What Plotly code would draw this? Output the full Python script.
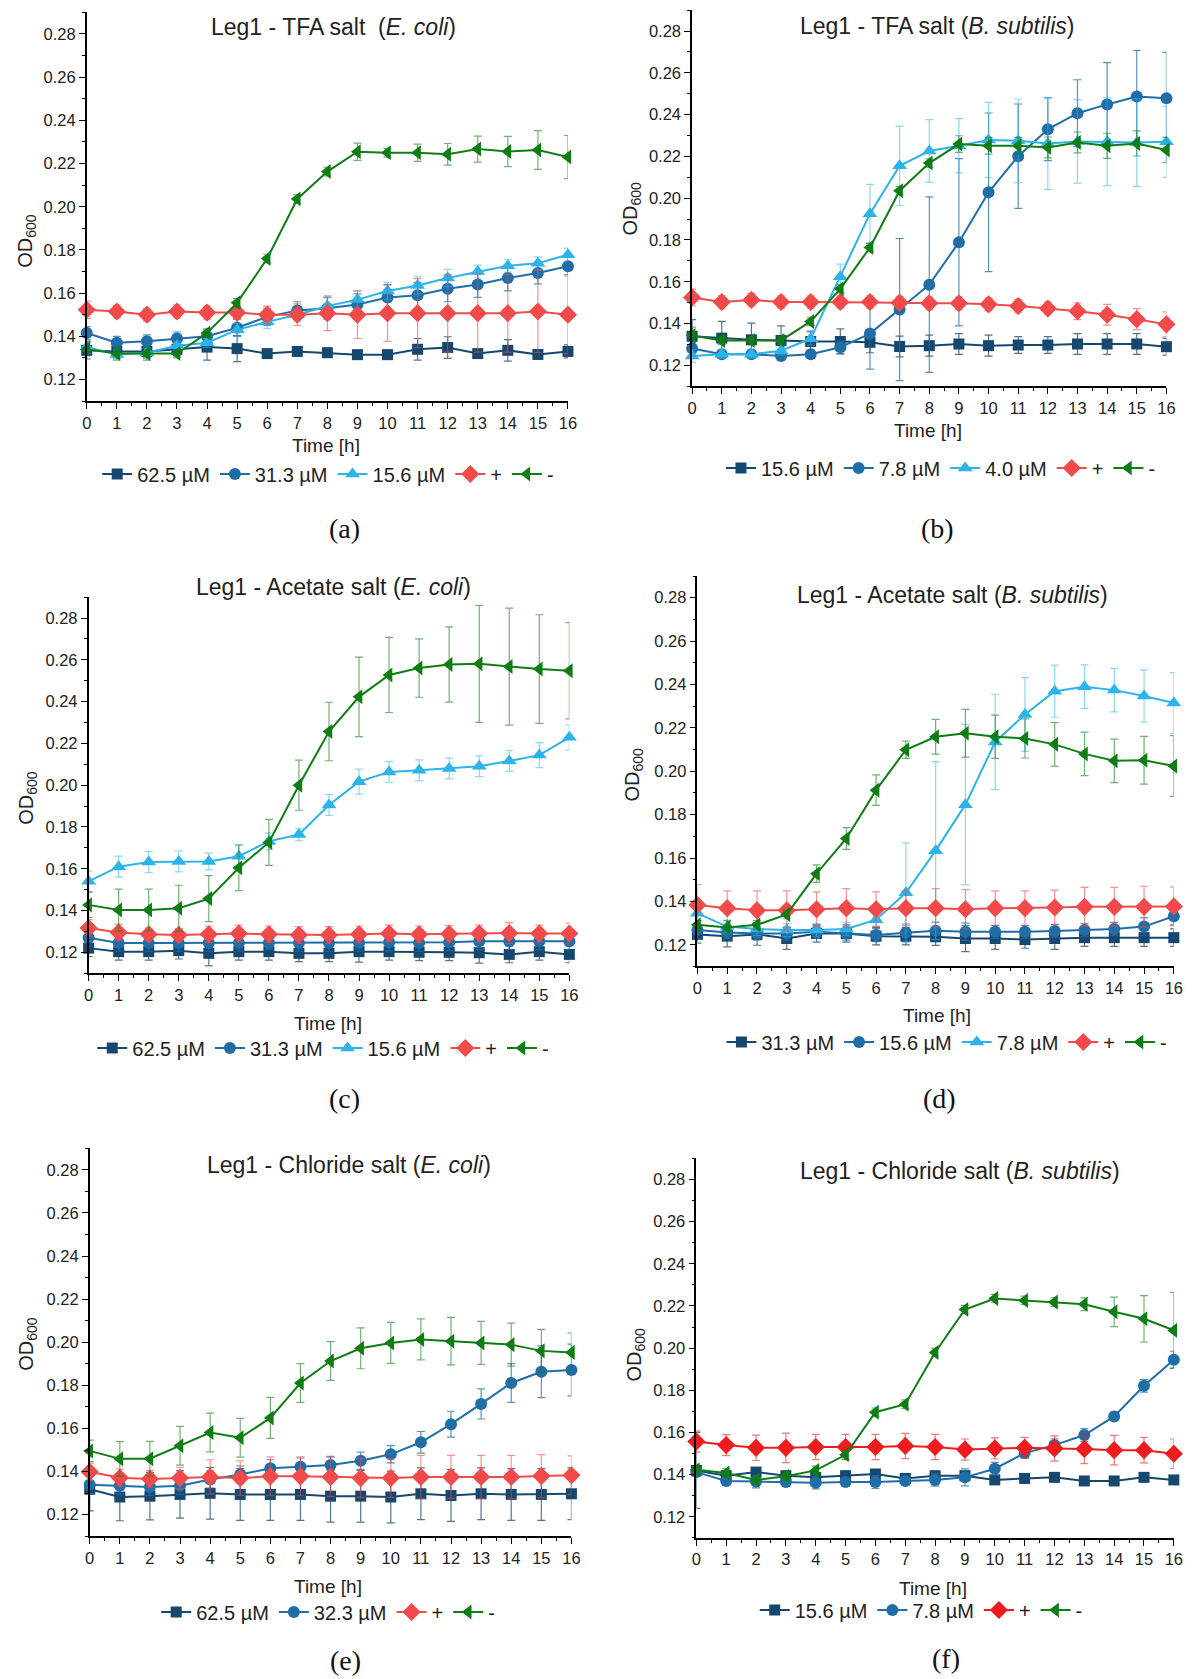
import plotly.graph_objects as go

W, H = 1203, 1679
HOURS = list(range(17))

# ---------------- (a) Leg1 - TFA salt, E. coli ----------------
a_625 = [0.1335, 0.1330, 0.1330, 0.1340, 0.1350, 0.1343, 0.1320, 0.1330, 0.1324, 0.1315, 0.1315, 0.1340, 0.1348, 0.1320, 0.1335, 0.1316, 0.1330]
a_625_err = [0.004, 0.003, 0.003, 0.003, 0.006, 0.006, 0.002, 0.002, 0.002, 0.002, 0.002, 0.005, 0.005, 0.002, 0.005, 0.002, 0.003]
a_313 = [0.1415, 0.1370, 0.1377, 0.1390, 0.1400, 0.1440, 0.1490, 0.1520, 0.1530, 0.1547, 0.1580, 0.1590, 0.1620, 0.1640, 0.1670, 0.1693, 0.1725]
a_313_err = [0.003, 0.003, 0.003, 0.003, 0.003, 0.004, 0.004, 0.004, 0.005, 0.005, 0.006, 0.006, 0.006, 0.006, 0.006, 0.005, 0.004]
a_156 = [0.1350, 0.1316, 0.1324, 0.1356, 0.1370, 0.1430, 0.1467, 0.1500, 0.1540, 0.1570, 0.1610, 0.1635, 0.1670, 0.1700, 0.1727, 0.1738, 0.1778]
a_156_err = [0.003, 0.002, 0.002, 0.002, 0.002, 0.003, 0.003, 0.003, 0.004, 0.004, 0.004, 0.004, 0.004, 0.003, 0.003, 0.003, 0.003]
a_pos = [0.1523, 0.1515, 0.1500, 0.1515, 0.1510, 0.1510, 0.1500, 0.1500, 0.1507, 0.1500, 0.1507, 0.1507, 0.1507, 0.1507, 0.1507, 0.1515, 0.1500]
a_pos_err = [0.004, 0.003, 0.003, 0.003, 0.003, 0.003, 0.004, 0.005, 0.008, 0.011, 0.013, 0.016, 0.018, 0.018, 0.018, 0.019, 0.018]
a_neg = [0.1340, 0.1320, 0.1320, 0.1320, 0.1415, 0.1555, 0.1760, 0.2036, 0.2163, 0.2255, 0.2250, 0.2250, 0.2243, 0.2267, 0.2256, 0.2263, 0.2230]
a_neg_err = [0.003, 0.003, 0.003, 0.002, 0.002, 0.002, 0.002, 0.002, 0.002, 0.004, 0.002, 0.004, 0.005, 0.006, 0.007, 0.009, 0.010]

# ---------------- (b) Leg1 - TFA salt, B. subtilis ----------------
b_156 = [0.1339, 0.1330, 0.1322, 0.1319, 0.1314, 0.1314, 0.1310, 0.1290, 0.1294, 0.1302, 0.1294, 0.1297, 0.1297, 0.1302, 0.1302, 0.1302, 0.1289]
b_156_err = [0.008, 0.008, 0.008, 0.007, 0.005, 0.006, 0.005, 0.005, 0.005, 0.005, 0.005, 0.004, 0.004, 0.005, 0.005, 0.005, 0.004]
b_78 = [0.1280, 0.1253, 0.1253, 0.1245, 0.1253, 0.1286, 0.1352, 0.1467, 0.1586, 0.1789, 0.2028, 0.2201, 0.2330, 0.2407, 0.2449, 0.2487, 0.2478]
b_78_err = [0.003, 0.002, 0.002, 0.002, 0.002, 0.003, 0.017, 0.034, 0.042, 0.040, 0.038, 0.025, 0.015, 0.016, 0.020, 0.022, 0.022]
b_40 = [0.1245, 0.1253, 0.1253, 0.1270, 0.1327, 0.1624, 0.1926, 0.2155, 0.2226, 0.2251, 0.2279, 0.2275, 0.2262, 0.2272, 0.2270, 0.2267, 0.2270]
b_40_err = [0.003, 0.002, 0.002, 0.002, 0.003, 0.006, 0.014, 0.019, 0.015, 0.013, 0.018, 0.020, 0.022, 0.020, 0.021, 0.021, 0.017]
b_pos = [0.1525, 0.1503, 0.1513, 0.1503, 0.1503, 0.1503, 0.1503, 0.1500, 0.1497, 0.1497, 0.1492, 0.1484, 0.1472, 0.1459, 0.1442, 0.1421, 0.1396]
b_pos_err = [0.004, 0.003, 0.003, 0.003, 0.003, 0.003, 0.003, 0.003, 0.003, 0.003, 0.003, 0.003, 0.003, 0.004, 0.005, 0.005, 0.006]
b_neg = [0.1343, 0.1319, 0.1319, 0.1319, 0.1410, 0.1566, 0.1764, 0.2036, 0.2168, 0.2259, 0.2251, 0.2251, 0.2243, 0.2267, 0.2251, 0.2262, 0.2231]
b_neg_err = [0.004, 0.002, 0.002, 0.002, 0.002, 0.002, 0.002, 0.002, 0.002, 0.004, 0.004, 0.004, 0.005, 0.005, 0.006, 0.006, 0.006]

# ---------------- (c) Leg1 - Acetate salt, E. coli ----------------
c_625 = [0.1220, 0.1203, 0.1203, 0.1208, 0.1195, 0.1203, 0.1203, 0.1195, 0.1195, 0.1203, 0.1203, 0.1200, 0.1200, 0.1198, 0.1190, 0.1203, 0.1190]
c_625_err = [0.004, 0.004, 0.004, 0.004, 0.006, 0.004, 0.004, 0.004, 0.004, 0.005, 0.004, 0.004, 0.004, 0.005, 0.004, 0.004, 0.004]
c_313 = [0.1270, 0.1245, 0.1245, 0.1245, 0.1245, 0.1245, 0.1245, 0.1245, 0.1245, 0.1245, 0.1248, 0.1245, 0.1248, 0.1253, 0.1253, 0.1253, 0.1253]
c_313_err = [0.004, 0.004, 0.004, 0.004, 0.004, 0.004, 0.003, 0.004, 0.004, 0.004, 0.004, 0.004, 0.004, 0.004, 0.004, 0.004, 0.004]
c_156 = [0.1540, 0.1610, 0.1632, 0.1635, 0.1635, 0.1660, 0.1731, 0.1764, 0.1905, 0.2017, 0.2063, 0.2071, 0.2080, 0.2091, 0.2116, 0.2144, 0.2229]
c_156_err = [0.005, 0.005, 0.005, 0.005, 0.004, 0.005, 0.004, 0.003, 0.005, 0.006, 0.005, 0.005, 0.005, 0.005, 0.005, 0.006, 0.006]
c_pos = [0.1316, 0.1295, 0.1286, 0.1283, 0.1286, 0.1290, 0.1286, 0.1283, 0.1283, 0.1286, 0.1290, 0.1286, 0.1288, 0.1290, 0.1292, 0.1290, 0.1290]
c_pos_err = [0.004, 0.004, 0.003, 0.003, 0.004, 0.004, 0.004, 0.004, 0.004, 0.004, 0.004, 0.004, 0.004, 0.004, 0.005, 0.004, 0.005]
c_neg = [0.1427, 0.1402, 0.1402, 0.1411, 0.1457, 0.1605, 0.1726, 0.2000, 0.2257, 0.2423, 0.2528, 0.2561, 0.2578, 0.2581, 0.2568, 0.2556, 0.2548]
c_neg_err = [0.006, 0.010, 0.010, 0.011, 0.011, 0.011, 0.011, 0.012, 0.014, 0.019, 0.018, 0.014, 0.018, 0.028, 0.028, 0.026, 0.023]

# ---------------- (d) Leg1 - Acetate salt, B. subtilis ----------------
d_313 = [0.1248, 0.1240, 0.1248, 0.1229, 0.1252, 0.1252, 0.1240, 0.1240, 0.1237, 0.1229, 0.1229, 0.1224, 0.1229, 0.1233, 0.1233, 0.1233, 0.1233]
d_313_err = [0.004, 0.005, 0.005, 0.005, 0.004, 0.004, 0.004, 0.004, 0.004, 0.006, 0.005, 0.004, 0.005, 0.004, 0.004, 0.004, 0.004]
d_156 = [0.1268, 0.1257, 0.1252, 0.1252, 0.1260, 0.1252, 0.1245, 0.1256, 0.1265, 0.1260, 0.1260, 0.1260, 0.1264, 0.1268, 0.1273, 0.1284, 0.1332]
d_156_err = [0.004, 0.003, 0.003, 0.003, 0.003, 0.003, 0.003, 0.004, 0.004, 0.004, 0.003, 0.003, 0.003, 0.003, 0.003, 0.004, 0.004]
d_78 = [0.1345, 0.1284, 0.1273, 0.1268, 0.1268, 0.1273, 0.1316, 0.1440, 0.1634, 0.1846, 0.2135, 0.2262, 0.2369, 0.2390, 0.2374, 0.2347, 0.2315]
d_78_err = [0.004, 0.003, 0.003, 0.003, 0.003, 0.003, 0.003, 0.023, 0.041, 0.037, 0.022, 0.017, 0.012, 0.010, 0.010, 0.012, 0.014]
d_pos = [0.1383, 0.1369, 0.1359, 0.1359, 0.1364, 0.1369, 0.1364, 0.1369, 0.1369, 0.1364, 0.1369, 0.1369, 0.1372, 0.1375, 0.1375, 0.1375, 0.1377]
d_pos_err = [0.0095, 0.008, 0.009, 0.009, 0.008, 0.009, 0.008, 0.008, 0.009, 0.009, 0.008, 0.008, 0.008, 0.009, 0.009, 0.0095, 0.009]
d_neg = [0.1292, 0.1280, 0.1292, 0.1340, 0.1528, 0.1690, 0.1913, 0.2099, 0.2159, 0.2175, 0.2159, 0.2151, 0.2124, 0.2080, 0.2048, 0.2051, 0.2024]
d_neg_err = [0.002, 0.003, 0.002, 0.002, 0.004, 0.005, 0.007, 0.004, 0.008, 0.011, 0.010, 0.009, 0.010, 0.010, 0.010, 0.011, 0.014]

# ---------------- (e) Leg1 - Chloride salt, E. coli ----------------
e_625 = [0.1318, 0.1282, 0.1286, 0.1294, 0.1299, 0.1294, 0.1294, 0.1294, 0.1286, 0.1286, 0.1282, 0.1297, 0.1289, 0.1297, 0.1294, 0.1294, 0.1297]
e_625_err = [0.010, 0.011, 0.011, 0.011, 0.012, 0.012, 0.012, 0.012, 0.012, 0.012, 0.012, 0.012, 0.012, 0.012, 0.012, 0.012, 0.012]
e_323 = [0.1339, 0.1334, 0.1329, 0.1334, 0.1363, 0.1386, 0.1415, 0.1423, 0.1431, 0.1450, 0.1480, 0.1536, 0.1620, 0.1714, 0.1811, 0.1863, 0.1871]
e_323_err = [0.004, 0.004, 0.004, 0.004, 0.004, 0.004, 0.004, 0.004, 0.004, 0.004, 0.004, 0.005, 0.006, 0.007, 0.009, 0.012, 0.012]
e_pos = [0.1399, 0.1371, 0.1366, 0.1370, 0.1375, 0.1370, 0.1378, 0.1378, 0.1375, 0.1370, 0.1370, 0.1375, 0.1375, 0.1375, 0.1375, 0.1379, 0.1383]
e_pos_err = [0.004, 0.004, 0.004, 0.005, 0.008, 0.008, 0.009, 0.009, 0.009, 0.009, 0.009, 0.010, 0.010, 0.010, 0.010, 0.010, 0.009]
e_neg = [0.1496, 0.1459, 0.1460, 0.1520, 0.1581, 0.1557, 0.1649, 0.1811, 0.1913, 0.1972, 0.1997, 0.2013, 0.2005, 0.1997, 0.1989, 0.1960, 0.1953]
e_neg_err = [0.005, 0.008, 0.008, 0.009, 0.009, 0.009, 0.0095, 0.009, 0.009, 0.0095, 0.0095, 0.0095, 0.011, 0.010, 0.010, 0.010, 0.009]

# ---------------- (f) Leg1 - Chloride salt, B. subtilis ----------------
f_156 = [0.1420, 0.1395, 0.1412, 0.1395, 0.1387, 0.1395, 0.1403, 0.1382, 0.1395, 0.1395, 0.1375, 0.1382, 0.1387, 0.1370, 0.1370, 0.1387, 0.1375]
f_156_err = [0.018, 0.002, 0.002, 0.002, 0.002, 0.002, 0.002, 0.002, 0.002, 0.002, 0.002, 0.002, 0.002, 0.002, 0.002, 0.002, 0.002]
f_78 = [0.1412, 0.1370, 0.1367, 0.1365, 0.1362, 0.1365, 0.1365, 0.1370, 0.1375, 0.1387, 0.1428, 0.1502, 0.1540, 0.1588, 0.1676, 0.1821, 0.1945]
f_78_err = [0.002, 0.002, 0.003, 0.002, 0.003, 0.002, 0.003, 0.002, 0.003, 0.004, 0.003, 0.002, 0.003, 0.003, 0.002, 0.003, 0.004]
f_pos = [0.1557, 0.1540, 0.1527, 0.1527, 0.1531, 0.1531, 0.1531, 0.1536, 0.1531, 0.1519, 0.1524, 0.1527, 0.1524, 0.1522, 0.1516, 0.1516, 0.1499]
f_pos_err = [0.005, 0.005, 0.006, 0.007, 0.006, 0.006, 0.006, 0.006, 0.006, 0.005, 0.005, 0.005, 0.006, 0.007, 0.007, 0.006, 0.007]
f_neg = [0.1423, 0.1408, 0.1375, 0.1392, 0.1420, 0.1494, 0.1696, 0.1734, 0.1979, 0.2183, 0.2235, 0.2226, 0.2218, 0.2208, 0.2172, 0.2139, 0.2084]
f_neg_err = [0.002, 0.002, 0.002, 0.002, 0.002, 0.002, 0.002, 0.002, 0.002, 0.002, 0.002, 0.002, 0.002, 0.003, 0.007, 0.011, 0.018]

# marker / colour styles: (line colour, error-bar colour, symbol, marker size)
STYLES = {
    "sq": ("#16476f", "rgba(22,71,111,0.75)", "square", 11),
    "ci": ("#1f6ea8", "rgba(31,110,168,0.75)", "circle", 12),
    "tr": ("#2cb4ea", "rgba(44,180,234,0.55)", "triangle-up", 13),
    "pos": ("#f24a4a", "rgba(242,74,74,0.6)", "diamond", 14),
    "posf": ("#ee1c1c", "rgba(238,28,28,0.6)", "diamond", 14),
    "neg": ("#0f7d14", "rgba(15,125,20,0.6)", "triangle-left", 13),
}

SANS = "Liberation Sans, Arial, sans-serif"
SERIF = "Liberation Serif, Times New Roman, serif"

# pixel geometry of each panel: x of hour 0, x of hour 16, y of 0.28, y of 0.12
PANELS = [
    dict(geom=(82.7, 569.6, 34.0, 379.5),
         title="Leg1 - TFA salt\u00a0 (<i>E. coli</i>)", title_xy=(332, 27),
         od_xy=(22, 241), time_xy=(325, 445), legend_xy=(327, 474), label="(a)", label_xy=(344, 528),
         series=[("62.5 µM", a_625, a_625_err, "sq"), ("31.3 µM", a_313, a_313_err, "ci"),
                 ("15.6 µM", a_156, a_156_err, "tr"), ("+", a_pos, a_pos_err, "pos"),
                 ("-", a_neg, a_neg_err, "neg")]),
    dict(geom=(695.2, 1175.1, 31.1, 365.3),
         title="Leg1 - TFA salt (<i>B. subtilis</i>)", title_xy=(943, 26),
         od_xy=(634, 209), time_xy=(934, 430), legend_xy=(947, 468), label="(b)", label_xy=(943, 528),
         series=[("15.6 µM", b_156, b_156_err, "sq"), ("7.8 µM", b_78, b_78_err, "ci"),
                 ("4.0 µM", b_40, b_40_err, "tr"), ("+", b_pos, b_pos_err, "pos"),
                 ("-", b_neg, b_neg_err, "neg")]),
    dict(geom=(84.6, 571.0, 618.1, 952.3),
         title="Leg1 - Acetate salt (<i>E. coli</i>)", title_xy=(332, 587),
         od_xy=(22, 798), time_xy=(327, 1023), legend_xy=(322, 1048), label="(c)", label_xy=(344, 1098),
         series=[("62.5 µM", c_625, c_625_err, "sq"), ("31.3 µM", c_313, c_313_err, "ci"),
                 ("15.6 µM", c_156, c_156_err, "tr"), ("+", c_pos, c_pos_err, "pos"),
                 ("-", c_neg, c_neg_err, "neg")]),
    dict(geom=(700.6, 1182.6, 597.7, 944.8),
         title="Leg1 - Acetate salt (<i>B. subtilis</i>)", title_xy=(959, 595),
         od_xy=(636, 775), time_xy=(943, 1015), legend_xy=(953, 1042), label="(d)", label_xy=(945, 1098),
         series=[("31.3 µM", d_313, d_313_err, "sq"), ("15.6 µM", d_156, d_156_err, "ci"),
                 ("7.8 µM", d_78, d_78_err, "tr"), ("+", d_pos, d_pos_err, "pos"),
                 ("-", d_neg, d_neg_err, "neg")]),
    dict(geom=(85.7, 573.1, 1169.8, 1514.7),
         title="Leg1 - Chloride salt (<i>E. coli</i>)", title_xy=(348, 1165),
         od_xy=(22, 1344), time_xy=(327, 1586), legend_xy=(327, 1612), label="(e)", label_xy=(345, 1660),
         series=[("62.5 µM", e_625, e_625_err, "sq"), ("32.3 µM", e_323, e_323_err, "ci"),
                 ("+", e_pos, e_pos_err, "pos"), ("-", e_neg, e_neg_err, "neg")]),
    dict(geom=(699.5, 1182.6, 1179.4, 1516.8),
         title="Leg1 - Chloride salt (<i>B. subtilis</i>)", title_xy=(966, 1171),
         od_xy=(637, 1355), time_xy=(939, 1588), legend_xy=(927, 1610), label="(f)", label_xy=(952, 1658),
         series=[("15.6 µM", f_156, f_156_err, "sq"), ("7.8 µM", f_78, f_78_err, "ci"),
                 ("+", f_pos, f_pos_err, "posf"), ("-", f_neg, f_neg_err, "neg")]),
]


def fx(px):
    return px / W


def fy(py):
    return 1 - py / H


fig = go.Figure()
layout = dict(
    width=W, height=H, autosize=False, margin=dict(l=0, r=0, t=0, b=0),
    paper_bgcolor="white", plot_bgcolor="white", showlegend=True,
    font=dict(family=SANS, color="#222222"),
)
annotations = []

for i, p in enumerate(PANELS, start=1):
    sfx = "" if i == 1 else str(i)
    xname, yname, lname = "x" + sfx, "y" + sfx, "legend" + sfx
    x0, x16, y28, y12 = p["geom"]
    step = (y12 - y28) / 8.0
    top, bottom = y28 - step / 2.0, y12 + step / 2.0

    layout["xaxis" + sfx] = dict(
        domain=[fx(x0), fx(x16)], anchor=yname, range=[0, 16],
        tickmode="linear", tick0=0, dtick=1,
        showline=True, linecolor="black", linewidth=1.6, mirror=False,
        ticks="outside", ticklen=6, tickwidth=1.4, tickcolor="black",
        minor=dict(ticks="outside", ticklen=3, tickwidth=1.1, tickcolor="black", dtick=0.5, showgrid=False),
        showgrid=False, zeroline=False, tickfont=dict(size=16.5, family=SANS, color="#222"),
        fixedrange=True,
    )
    layout["yaxis" + sfx] = dict(
        domain=[fy(bottom), fy(top)], anchor=xname, range=[0.11, 0.29],
        tickmode="linear", tick0=0, dtick=0.02, tickformat=".2f",
        showline=True, linecolor="black", linewidth=1.6,
        ticks="outside", ticklen=6, tickwidth=1.4, tickcolor="black",
        minor=dict(ticks="outside", ticklen=3, tickwidth=1.1, tickcolor="black", dtick=0.01, showgrid=False),
        showgrid=False, zeroline=False, tickfont=dict(size=16.5, family=SANS, color="#222"),
        fixedrange=True,
    )

    for name, vals, errs, key in p["series"]:
        color, ecolor, symbol, msize = STYLES[key]
        fig.add_trace(go.Scatter(
            x=HOURS, y=vals, name=name, mode="lines+markers",
            xaxis=xname, yaxis=yname, legend=lname, cliponaxis=False,
            line=dict(color=color, width=2),
            marker=dict(symbol=symbol, size=msize, color=color, line=dict(width=0)),
            error_y=dict(type="data", array=errs, visible=True, color=ecolor, thickness=1.2, width=4),
        ))

    lx, ly = p["legend_xy"]
    layout[lname] = dict(
        orientation="h", x=fx(lx), y=fy(ly), xanchor="center", yanchor="middle",
        font=dict(size=20, family=SANS, color="#222"), bgcolor="rgba(0,0,0,0)",
        itemwidth=30, tracegroupgap=0, itemclick=False, itemdoubleclick=False,
    )

    tx, ty = p["title_xy"]
    annotations.append(dict(text=p["title"], x=fx(tx), y=fy(ty), xref="paper", yref="paper",
                            showarrow=False, xanchor="center", yanchor="middle",
                            font=dict(size=23, family=SANS, color="#222")))
    ox, oy = p["od_xy"]
    annotations.append(dict(text="OD<sub>600</sub>", x=fx(ox), y=fy(oy), xref="paper", yref="paper",
                            showarrow=False, xanchor="center", yanchor="middle", textangle=-90,
                            font=dict(size=20, family=SANS, color="#222")))
    hx, hy = p["time_xy"]
    annotations.append(dict(text="Time [h]", x=fx(hx), y=fy(hy), xref="paper", yref="paper",
                            showarrow=False, xanchor="center", yanchor="middle",
                            font=dict(size=19, family=SANS, color="#222")))
    px_, py_ = p["label_xy"]
    annotations.append(dict(text=p["label"], x=fx(px_), y=fy(py_), xref="paper", yref="paper",
                            showarrow=False, xanchor="center", yanchor="middle",
                            font=dict(size=28, family=SERIF, color="#111")))

layout["annotations"] = annotations
fig.update_layout(**layout)
fig.write_html("out.html", config={"responsive": False})
